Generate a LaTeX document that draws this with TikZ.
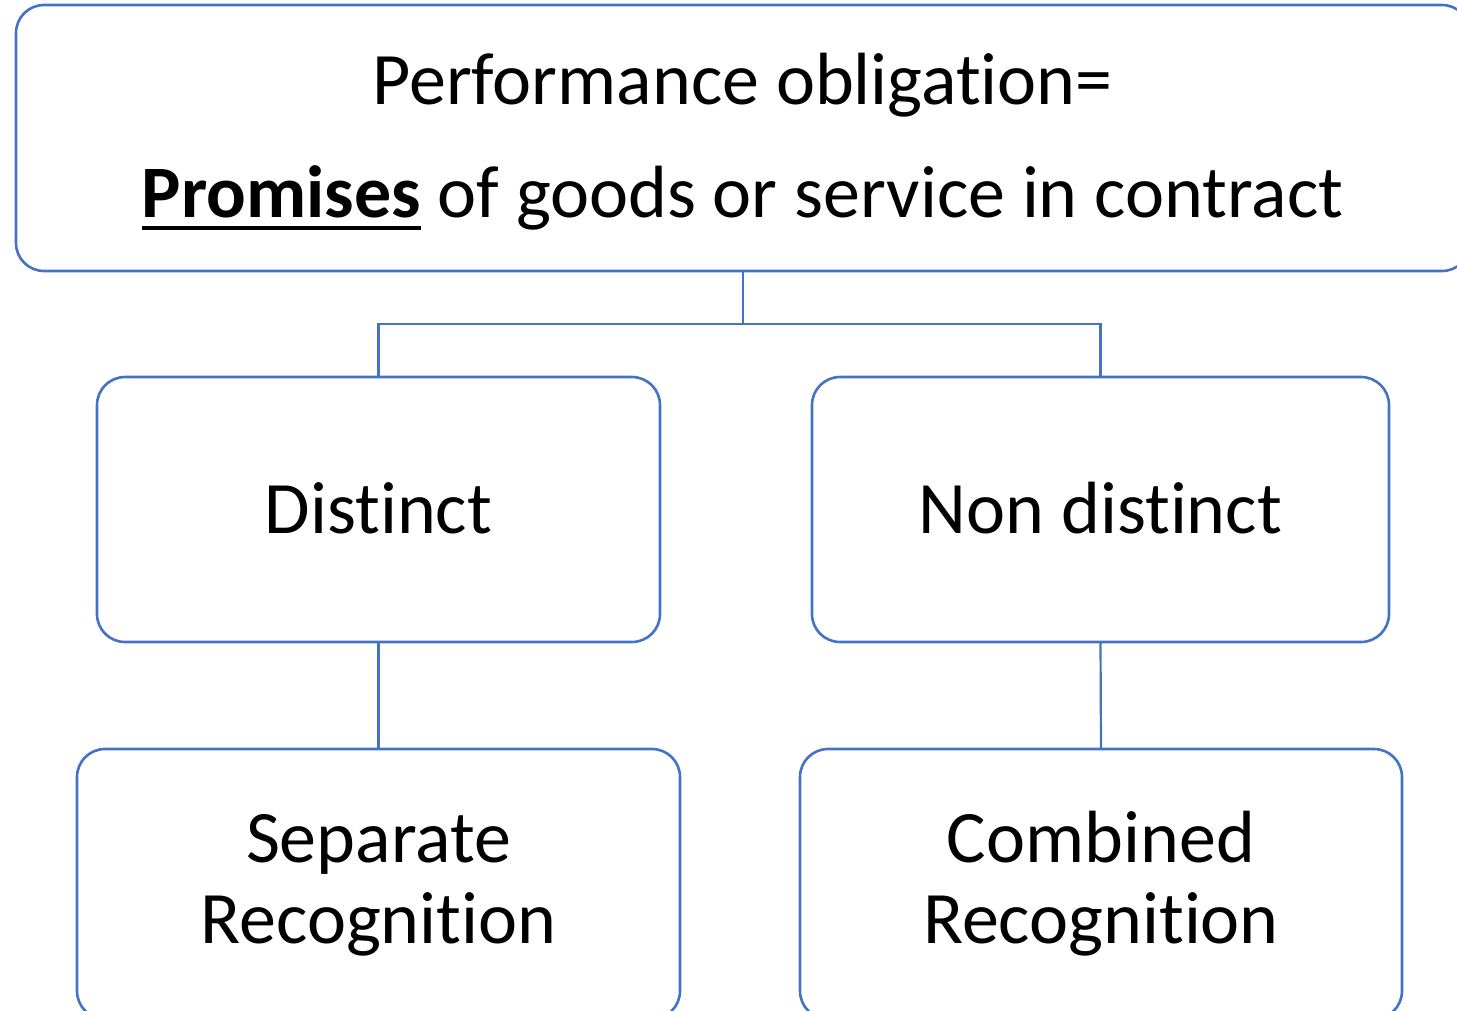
\documentclass[tikz,border=0pt]{standalone}
\usepackage{fontspec}
\setmainfont[Ligatures=NoCommon]{Carlito}
\definecolor{boxblue}{HTML}{4472C4}
% bold word with a thick underline
\newcommand{\thickul}[1]{\setbox0\hbox{#1}\rlap{\rule[-13pt]{\wd0}{4pt}}\box0\relax}
\begin{document}
\begin{tikzpicture}[x=1pt,y=-1pt,
  box/.style={draw=boxblue, line width=2.6pt, rounded corners=28pt, fill=white,
    inner sep=0pt, outer sep=0pt},
  label/.style={anchor=base, inner sep=0pt, font=\fontsize{74}{80}\selectfont},
  link/.style={draw=boxblue, line width=2.2pt}]
\useasboundingbox (0,0) rectangle (1457,1010);
\clip (0,0) rectangle (1457,1010);
% boxes
\node[box, minimum width=1454pt, minimum height=266pt] (top) at (743,138) {};
\node[box, minimum width=563pt, minimum height=265pt] (dist) at (378.5,509.5) {};
\node[box, minimum width=577pt, minimum height=265pt] (nondist) at (1100.5,509.5) {};
\node[box, minimum width=603pt, minimum height=270pt] (sep) at (378.5,884) {};
\node[box, minimum width=602pt, minimum height=270pt] (comb) at (1101,884) {};
% connectors
\coordinate (fork) at (743,324);
\draw[link] (top.south) -- (fork);
\draw[link] (fork) -| (dist.north);
\draw[link] (fork) -| (nondist.north);
\draw[link] (dist.south) -- (sep.north);
\draw[link] (nondist.south) -- (comb.north);
% texts
\node[label] (t1) at (742.5,104) {Performance obligation=};
\node[label] (t2) at (742.5,217) {\thickul{\textbf{Promises}} of goods or service in contract};
\node[label] (d) at (378.5,533) {Distinct};
\node[label] (nd) at (1100.5,533) {Non distinct};
\node[label] (s1) at (378.5,862) {Separate};
\node[label] (s2) at (378.5,943) {Recognition};
\node[label] (c1) at (1101,862) {Combined};
\node[label] (c2) at (1101,943) {Recognition};
\end{tikzpicture}
\end{document}
